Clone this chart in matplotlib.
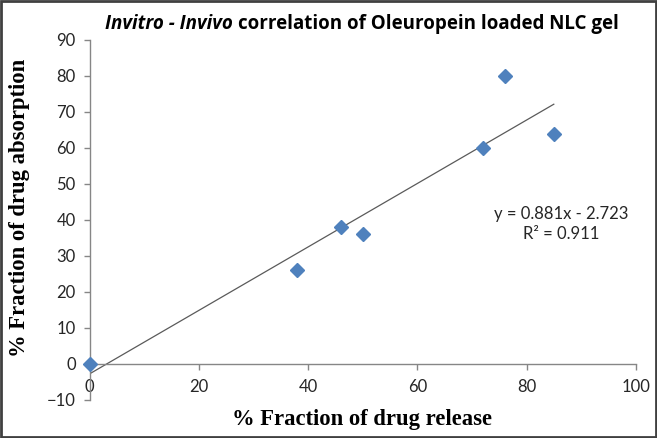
import matplotlib.pyplot as plt
from matplotlib.patches import Rectangle
import numpy as np

# data
release = [0, 38, 46, 50, 72, 76, 85]       # % fraction of drug release
absorption = [0, 26, 38, 36, 60, 80, 64]    # % fraction of drug absorption
slope, intercept = 0.881, -2.723
eq_text = "y = 0.881x - 2.723"
r2_text = "R² = 0.911"
x_ticks = [0, 20, 40, 60, 80, 100]
y_ticks = [-10, 0, 10, 20, 30, 40, 50, 60, 70, 80, 90]

W, H = 657, 438
fig = plt.figure(figsize=(W / 100, H / 100), dpi=100)
ax = fig.add_axes([89.7 / W, 1 - 400 / H, 546 / W, 360 / H])

spine_col = "#868686"
sans = "Lato"

# trendline over the data range
xl = np.array([min(release), max(release)])
ax.plot(xl, slope * xl + intercept, color="#5a5a5a", lw=0.9, zorder=2)
ax.plot(release, absorption, linestyle="none", marker="D", ms=7,
        color="#4F81BD", zorder=3, clip_on=False)

ax.set_xlim(0, 100)
ax.set_ylim(-10, 90)
ax.set_xticks(x_ticks)
ax.set_yticks(y_ticks)

for s in ["top", "right"]:
    ax.spines[s].set_visible(False)
ax.spines["bottom"].set_position(("data", 0))
for s in ["bottom", "left"]:
    ax.spines[s].set_color(spine_col)
    ax.spines[s].set_linewidth(1)

ax.tick_params(axis="both", direction="out", length=4, width=1,
               color=spine_col, labelsize=12, labelcolor="#262626")
ax.tick_params(axis="x", pad=7)
ax.tick_params(axis="y", pad=6)
for lab in ax.get_xticklabels() + ax.get_yticklabels():
    lab.set_fontfamily(sans)

# equation of the trendline
ax.text(86.3, 41.6, eq_text, ha="center", va="center", fontsize=12,
        family=sans, color="#262626")
ax.text(86.3, 36.0, r2_text, ha="center", va="center", fontsize=12,
        family=sans, color="#262626")

# axis titles
fig.text(362 / W, 1 - 419 / H, "% Fraction of drug release", ha="center",
         va="center", fontsize=16.3, fontweight="bold", family="Liberation Serif")
fig.text(20 / W, 1 - 208 / H, "% Fraction of drug absorption", ha="center",
         va="center", rotation=90, fontsize=16.3, fontweight="bold",
         family="Liberation Serif")

# chart title, italic part first then the rest right after it
renderer = fig.canvas.get_renderer()
t1 = fig.text(105 / W, 1 - 24 / H, "Invitro - Invivo", ha="left", va="center",
              fontsize=13.5, fontweight="bold", fontstyle="italic", family="Open Sans")
bb = t1.get_window_extent(renderer)
fig.text((bb.x1 + 5) / W, 1 - 24 / H, "correlation of Oleuropein loaded NLC gel",
         ha="left", va="center", fontsize=13.5, fontweight="bold", family="Open Sans")

# chart border
fig.patches.append(Rectangle((0.002, 0.002), 0.996, 0.995, transform=fig.transFigure,
                             fill=False, ec="#404040", lw=2))

fig.savefig("out.png", dpi=100)
